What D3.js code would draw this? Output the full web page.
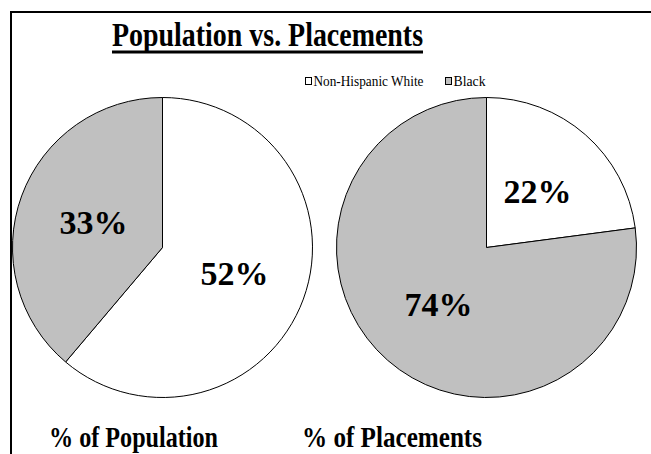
<!DOCTYPE html>
<html>
<head>
<meta charset="utf-8">
<script src="https://cdn.jsdelivr.net/npm/d3@7"></script>
<style>
  html, body { margin: 0; padding: 0; background: #fff; }
  svg { display: block; }
</style>
</head>
<body>
<svg id="chart" width="651" height="454"></svg>
<script>
const title = "Population vs. Placements";
const categories = ["Non-Hispanic White", "Black"];
const colors = ["#ffffff", "#c0c0c0"];
const populationValues = [52, 33];
const placementValues = [22, 74];
const pieTitles = ["% of Population", "% of Placements"];

const FONT = "Liberation Serif";
const svg = d3.select("#chart").attr("font-family", FONT);

// frame (top and left edge)
svg.append("path")
  .attr("d", "M11,454V12H651")
  .attr("fill", "none")
  .attr("stroke", "#000")
  .attr("stroke-width", 2);

// title
svg.append("text")
  .attr("x", 112).attr("y", 46)
  .attr("font-family", FONT)
  .attr("font-size", 34).attr("font-weight", "bold")
  .attr("textLength", 311).attr("lengthAdjust", "spacingAndGlyphs")
  .text(title);
svg.append("rect").attr("x", 112).attr("y", 50.5).attr("width", 311).attr("height", 3).attr("fill", "#000");

// legend
const legendX = [305, 445];
const legendLen = [110, 32];
const lg = svg.append("g");
categories.forEach((c, i) => {
  lg.append("rect").attr("x", legendX[i] + 0.5).attr("y", 77.5).attr("width", 6).attr("height", 7)
    .attr("fill", colors[i]).attr("stroke", "#000").attr("stroke-width", 1);
  lg.append("text").attr("x", legendX[i] + 8.5).attr("y", 86).attr("font-size", 14)
    .attr("font-family", FONT)
    .attr("textLength", legendLen[i]).attr("lengthAdjust", "spacingAndGlyphs")
    .text(c);
});

const pie = d3.pie().sort(null).value(d => d);
const radius = 150;
const arc = d3.arc().innerRadius(0).outerRadius(radius);

function drawPie(values, cx, cy) {
  const g = svg.append("g").attr("transform", `translate(${cx},${cy})`);
  const arcs = pie(values);
  g.selectAll("path").data(arcs).join("path")
    .attr("d", arc)
    .attr("fill", (d, i) => colors[i])
    .attr("stroke", "#000")
    .attr("stroke-width", 1);
  g.selectAll("text").data(arcs).join("text")
    .attr("transform", d => { const c = arc.centroid(d); return `translate(${c[0] + 1.5},${c[1] + 12})`; })
    .attr("text-anchor", "middle")
    .attr("font-family", FONT)
    .attr("font-size", 34).attr("font-weight", "bold")
    .text(d => d.data + "%");
}

drawPie(populationValues, 162.5, 247.5);
drawPie(placementValues, 486.5, 247.5);

// bottom titles
svg.append("text").attr("x", 49).attr("y", 447).attr("font-size", 30).attr("font-weight", "bold")
  .attr("font-family", FONT)
  .attr("textLength", 169).attr("lengthAdjust", "spacingAndGlyphs").text(pieTitles[0]);
svg.append("text").attr("x", 302).attr("y", 447).attr("font-size", 30).attr("font-weight", "bold")
  .attr("font-family", FONT)
  .attr("textLength", 180).attr("lengthAdjust", "spacingAndGlyphs").text(pieTitles[1]);
</script>
</body>
</html>
